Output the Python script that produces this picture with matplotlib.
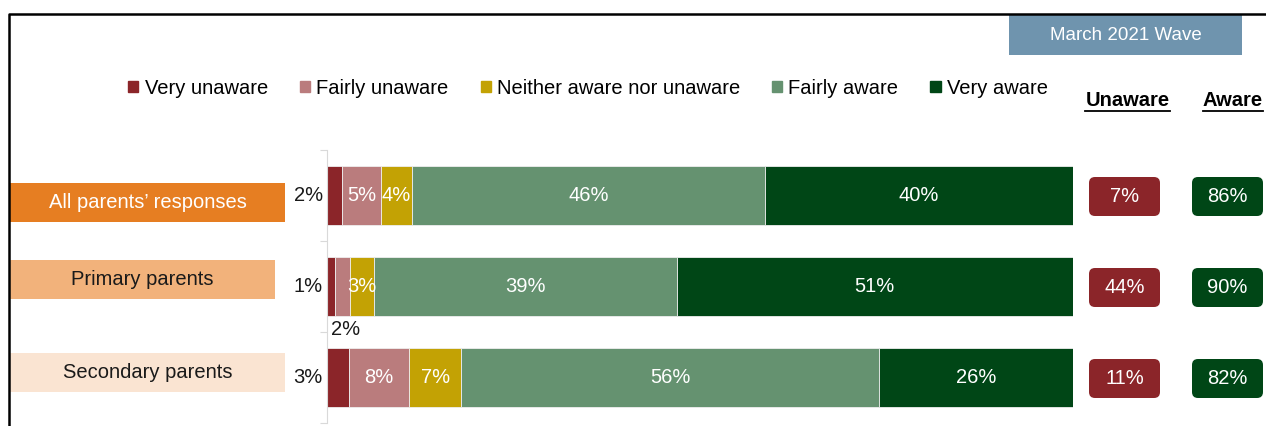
import matplotlib
matplotlib.use("Agg")
import matplotlib.pyplot as plt
from matplotlib.patches import FancyBboxPatch, Rectangle, Patch
from matplotlib.lines import Line2D
import numpy as np

plt.rcParams['font.family'] = ['Liberation Sans', 'DejaVu Sans']

# data
groups = ["All parents\u2019 responses", "Primary parents", "Secondary parents"]
responses = ["Very unaware", "Fairly unaware", "Neither aware nor unaware",
             "Fairly aware", "Very aware"]
very_unaware = [2, 1, 3]
fairly_unaware = [5, 2, 8]
neither = [4, 3, 7]
fairly_aware = [46, 39, 56]
very_aware = [40, 51, 26]
net_unaware = [7, 44, 11]
net_aware = [86, 90, 82]
wave = "March 2021 Wave"

colors = ["#8B2529", "#BA7C7D", "#C3A204", "#659270", "#004616"]
group_fill = ["#E67E22", "#F2B27B", "#FAE4D2"]
group_text = ["white", "#1a1a1a", "#1a1a1a"]
FS = 14.5

W, H = 1266, 426
fig = plt.figure(figsize=(W / 100, H / 100), dpi=100)
ax = fig.add_axes([327 / W, 3 / H, 746 / W, 273 / H])

# 100% stacked bars
series = [very_unaware, fairly_unaware, neither, fairly_aware, very_aware]
vals = np.array(series, dtype=float)
share = vals / vals.sum(axis=0) * 100
y = np.arange(len(groups))
left = np.zeros(len(groups))
for k in range(len(series)):
    ax.barh(y, share[k], left=left, height=0.65, color=colors[k],
            edgecolor="#eeeeee", linewidth=0.6, label=responses[k])
    for i in range(len(groups)):
        v = series[k][i]
        cx = left[i] + share[k][i] / 2
        if k == 0:
            ax.annotate(f"{v}%", xy=(0, i), xytext=(-3, 0), textcoords="offset points",
                        ha="right", va="center", fontsize=FS, color="#1a1a1a")
        elif v < 3:
            ax.annotate(f"{v}%", xy=(cx, i + 0.325), xytext=(2, -3),
                        textcoords="offset points", ha="center", va="top",
                        fontsize=FS, color="#1a1a1a")
        else:
            ax.text(cx, i, f"{v}%", ha="center", va="center", fontsize=FS, color="white")
    left += share[k]

ax.set_xlim(0, 100)
ax.set_ylim(2.5, -0.5)
for s in ["top", "right", "bottom"]:
    ax.spines[s].set_visible(False)
ax.spines["left"].set_color("#D9D9D9")
ax.set_xticks([])
ax.set_yticks([-0.5, 0.5, 1.5, 2.5])
ax.set_yticklabels([])
ax.tick_params(axis="y", length=5, color="#D9D9D9")

# overlay in pixel units for the boxes around the chart
ov = fig.add_axes([0, 0, 1, 1])
ov.set_xlim(0, W)
ov.set_ylim(H, 0)
ov.axis("off")


def row_px(i):
    return H - ax.transData.transform((0, i))[1]


# outer frame (right and bottom edges fall off the picture)
ov.add_line(Line2D([9, 9, W + 5], [H + 5, 14, 14], color="black", lw=1.8))

# wave tag
ov.add_patch(Rectangle((1009, 15), 233, 40, color="#6F94AE", lw=0))
ov.text(1125.5, 35, wave, ha="center", va="center", fontsize=13.5, color="white")

# category labels
box_right = [285, 275, 285]
box_dy = [7, -7, -5]
for i, g in enumerate(groups):
    cy = row_px(i) + box_dy[i]
    ov.add_patch(Rectangle((10, cy - 19.5), box_right[i] - 10, 39,
                           color=group_fill[i], lw=0))
    ov.text((10 + box_right[i]) / 2, cy, g, ha="center", va="center",
            fontsize=FS, color=group_text[i])

# net unaware / aware boxes
for i in range(len(groups)):
    cy = row_px(i) + 1
    for x0, val, col in [(1089, net_unaware[i], colors[0]), (1192, net_aware[i], colors[4])]:
        ov.add_patch(FancyBboxPatch((x0, cy - 19.5), 71, 39,
                                    boxstyle="round,pad=0,rounding_size=6",
                                    fc=col, ec="none"))
        ov.text(x0 + 35.5, cy, f"{val}%", ha="center", va="center",
                fontsize=FS, color="white")

# headers with underline
heads = [ov.text(1127.5, 100, "Unaware", ha="center", va="center", fontsize=FS,
                 fontweight="bold", color="black"),
         ov.text(1233, 100, "Aware", ha="center", va="center", fontsize=FS,
                 fontweight="bold", color="black")]

# legend
handles = [Patch(color=c) for c in colors]
fig.legend(handles, responses, loc="center", bbox_to_anchor=(588 / W, 1 - 88 / H),
           ncol=5, frameon=False, fontsize=FS, handlelength=0.5, handleheight=0.5,
           handletextpad=0.3, columnspacing=1.6, borderpad=0)

fig.canvas.draw()
for t in heads:
    bb = t.get_window_extent()
    ov.add_line(Line2D([bb.x0, bb.x1], [H - bb.y0 + 1, H - bb.y0 + 1],
                       color="black", lw=1.3))

fig.savefig("out.png", dpi=100)
